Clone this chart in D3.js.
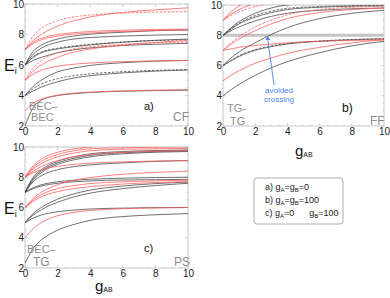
<!DOCTYPE html>
<html>
<head>
<meta charset="utf-8">
<script src="https://cdn.jsdelivr.net/npm/d3@7"></script>
<style>
  body { margin: 0; background: #fff; }
  svg { display: block; }
  text { font-family: "Liberation Sans", Arial, sans-serif; }
</style>
</head>
<body>
<script>
// interaction strength values at which every level was read
const gValues = [0, 0.5, 1, 2, 3, 4, 6, 8, 10]
const xTicks = [0, 2, 4, 6, 8, 10]
const yTicks = [2, 4, 6, 8, 10]

// a) gA = gB = 0  (BEC-BEC -> CF)
const aBlack = [
  [2, 3.2, 3.7, 4.0, 4.12, 4.2, 4.28, 4.32, 4.35],
  [4, 4.3, 4.55, 4.9, 5.15, 5.3, 5.48, 5.6, 5.67],
  [4, 4.6, 5.0, 5.55, 5.8, 5.97, 6.15, 6.25, 6.3],
  [6, 6.5, 6.8, 7.05, 7.2, 7.32, 7.5, 7.62, 7.7],
  [6, 6.3, 6.5, 6.8, 7.0, 7.12, 7.28, 7.36, 7.42],
  [6, 6.7, 7.1, 7.5, 7.7, 7.8, 7.9, 7.96, 8.0],
  [6, 6.9, 7.3, 7.7, 7.9, 8.02, 8.15, 8.25, 8.3]
]
const aBlackDashed = [
  [4, 4.45, 4.75, 5.1, 5.3, 5.42, 5.56, 5.65, 5.7],
  [6, 6.55, 6.85, 7.1, 7.25, 7.35, 7.5, 7.6, 7.65]
]
const aRed = [
  [3, 3.5, 3.75, 4.02, 4.15, 4.22, 4.3, 4.35, 4.38],
  [5, 5.4, 5.65, 5.92, 6.05, 6.13, 6.22, 6.27, 6.3],
  [5, 5.6, 6.0, 6.5, 6.85, 7.05, 7.3, 7.48, 7.6],
  [7, 7.4, 7.65, 7.9, 8.03, 8.1, 8.2, 8.26, 8.3],
  [7, 7.5, 7.75, 8.0, 8.12, 8.2, 8.28, 8.33, 8.35],
  [7, 7.6, 8.0, 8.55, 8.9, 9.15, 9.45, 9.62, 9.75]
]
const aRedDashed = [
  [5, 5.8, 6.3, 6.8, 7.05, 7.2, 7.35, 7.45, 7.5],
  [7, 7.9, 8.4, 8.9, 9.15, 9.28, 9.4, 9.47, 9.5]
]

// b) gA = gB = 100  (TG-TG -> FF)
const bBlack = [
  [4, 4.4, 4.75, 5.35, 5.85, 6.25, 6.85, 7.3, 7.6],
  [6, 6.3, 6.6, 7.0, 7.25, 7.42, 7.6, 7.7, 7.75],
  [6, 6.5, 6.9, 7.5, 8.05, 8.5, 9.1, 9.45, 9.65],
  [8, 8.4, 8.75, 9.2, 9.5, 9.7, 9.85, 9.92, 9.95],
  [8, 8.3, 8.55, 8.95, 9.25, 9.45, 9.65, 9.75, 9.8],
  [8, 8.5, 8.9, 9.45, 9.8, 10.0, 10.1, 10.1, 10.1]
]
const bBlackDashed = [
  [6, 6.35, 6.65, 7.05, 7.3, 7.45, 7.62, 7.72, 7.78],
  [8, 8.45, 8.8, 9.3, 9.6, 9.78, 9.9, 9.96, 9.98]
]
const bRed = [
  [5, 5.35, 5.65, 6.15, 6.5, 6.8, 7.2, 7.5, 7.7],
  [7, 7.1, 7.2, 7.32, 7.42, 7.5, 7.6, 7.66, 7.7],
  [7, 7.4, 7.75, 8.3, 8.75, 9.1, 9.5, 9.7, 9.8],
  [9, 9.4, 9.7, 10.1, 10.3, 10.4, 10.5, 10.5, 10.5],
  [9, 9.55, 9.95, 10.4, 10.6, 10.7, 10.8, 10.8, 10.8]
]
const bRedDashed = [
  [7, 7.5, 7.9, 8.55, 9.0, 9.35, 9.7, 9.85, 9.92],
  [9, 9.3, 9.55, 9.9, 10.1, 10.2, 10.3, 10.3, 10.3]
]
const bLimit = 8

// c) gA = 0, gB = 100  (BEC-TG -> PS)
const cBlack = [
  [2.3, 3.3, 3.85, 4.5, 4.88, 5.15, 5.4, 5.52, 5.6],
  [5, 5.3, 5.5, 5.72, 5.83, 5.9, 5.96, 5.99, 6.0],
  [5, 5.5, 5.85, 6.35, 6.7, 6.95, 7.25, 7.45, 7.6],
  [5, 5.6, 6.0, 6.55, 6.9, 7.15, 7.42, 7.58, 7.68],
  [7, 7.3, 7.5, 7.7, 7.8, 7.87, 7.94, 7.98, 8.0],
  [7, 7.25, 7.42, 7.6, 7.7, 7.76, 7.82, 7.84, 7.86],
  [7, 7.7, 8.1, 8.5, 8.7, 8.82, 8.95, 9.05, 9.1],
  [7, 7.8, 8.3, 8.85, 9.15, 9.35, 9.55, 9.65, 9.7],
  [7, 7.9, 8.4, 8.95, 9.25, 9.45, 9.62, 9.7, 9.75],
  [7, 8.0, 8.5, 9.05, 9.35, 9.55, 9.7, 9.77, 9.8]
]
const cRed = [
  [4, 4.6, 5.0, 5.45, 5.68, 5.8, 5.92, 5.97, 6.0],
  [6, 6.4, 6.7, 7.05, 7.25, 7.38, 7.55, 7.65, 7.7],
  [6, 6.5, 6.85, 7.25, 7.45, 7.58, 7.7, 7.76, 7.8],
  [6, 6.6, 7.0, 7.5, 7.8, 7.98, 8.2, 8.32, 8.4],
  [8, 8.3, 8.5, 8.72, 8.85, 8.93, 9.02, 9.07, 9.1],
  [8, 8.4, 8.7, 9.1, 9.35, 9.5, 9.65, 9.72, 9.75],
  [8, 8.55, 8.9, 9.35, 9.6, 9.75, 9.85, 9.88, 9.9],
  [8, 8.65, 9.05, 9.5, 9.75, 9.88, 9.95, 9.98, 10.0],
  [8, 8.75, 9.2, 9.65, 9.88, 10.0, 10.1, 10.1, 10.1]
]

const legendRows = [
  ['a) g', 'A', '=g', 'B', '=0'],
  ['b) g', 'A', '=g', 'B', '=100'],
  ['c) g', 'A', '=0      g', 'B', '=100']
]

const red = '#ff5454'
const black = '#404040'
const grey = '#8c8c8c'

const svg = d3.select('body').append('svg')
  .attr('width', 390)
  .attr('height', 298)

const defs = svg.append('defs')
defs.append('marker')
  .attr('id', 'arrow')
  .attr('viewBox', '0 0 10 10')
  .attr('refX', 9).attr('refY', 5)
  .attr('markerWidth', 5).attr('markerHeight', 5)
  .attr('orient', 'auto')
  .append('path')
  .attr('d', 'M0,0 L10,5 L0,10 z')
  .attr('fill', '#4a86e8')

function panel(id, x0, x1, yTop, yBot, sets, showEi) {
  const xScale = d3.scaleLinear().domain([0, 10]).range([x0, x1])
  const yScale = d3.scaleLinear().domain([2, 10]).range([yBot, yTop])

  defs.append('clipPath').attr('id', 'clip-' + id)
    .append('rect')
    .attr('x', x0).attr('y', yTop)
    .attr('width', x1 - x0).attr('height', yBot - yTop)

  const g = svg.append('g')

  // frame with inward ticks
  g.append('rect')
    .attr('x', x0).attr('y', yTop)
    .attr('width', x1 - x0).attr('height', yBot - yTop)
    .attr('fill', 'none').attr('stroke', '#c8c8c8').attr('stroke-width', 1)

  const minorX = d3.range(0, 10.01, 0.5)
  const minorY = d3.range(2, 10.01, 0.5)
  const tickG = g.append('g').attr('stroke', '#c8c8c8').attr('stroke-width', 0.8)
  minorX.forEach(v => {
    const len = v % 2 === 0 ? 3 : 1.5
    tickG.append('line').attr('x1', xScale(v)).attr('x2', xScale(v)).attr('y1', yBot).attr('y2', yBot - len)
    tickG.append('line').attr('x1', xScale(v)).attr('x2', xScale(v)).attr('y1', yTop).attr('y2', yTop + len)
  })
  minorY.forEach(v => {
    const len = v % 2 === 0 ? 3 : 1.5
    tickG.append('line').attr('y1', yScale(v)).attr('y2', yScale(v)).attr('x1', x0).attr('x2', x0 + len)
    tickG.append('line').attr('y1', yScale(v)).attr('y2', yScale(v)).attr('x1', x1).attr('x2', x1 - len)
  })

  const xAxis = d3.axisBottom(xScale).tickValues(xTicks).tickSize(0).tickPadding(2)
  const yAxis = d3.axisLeft(yScale).tickValues(yTicks).tickSize(0).tickPadding(1)

  g.append('g').attr('transform', `translate(0,${yBot})`).call(xAxis)
    .call(s => s.select('.domain').remove())
    .selectAll('text').attr('font-size', 10).attr('fill', '#222')
    .attr('font-family', '"DejaVu Sans", sans-serif')
  g.append('g').attr('transform', `translate(${x0},0)`).call(yAxis)
    .call(s => s.select('.domain').remove())
    .selectAll('text').attr('font-size', 10).attr('fill', '#222')
    .attr('font-family', '"DejaVu Sans", sans-serif')

  const line = d3.line()
    .x((d, i) => xScale(gValues[i]))
    .y(d => yScale(d))
    .curve(d3.curveMonotoneX)

  const lines = g.append('g').attr('clip-path', `url(#clip-${id})`)
  sets.forEach(s => {
    lines.append('g').selectAll('path')
      .data(s.data)
      .enter()
      .append('path')
      .attr('d', line)
      .attr('fill', 'none')
      .attr('stroke', s.color)
      .attr('stroke-width', 0.75)
      .attr('stroke-dasharray', s.dashed ? '2.5,1.5' : null)
  })

  if (showEi) {
    const t = g.append('text')
      .attr('x', 4).attr('y', (yTop + yBot) / 2 + 6)
      .attr('font-size', 16).attr('fill', '#111')
      .attr('font-family', '"DejaVu Sans", sans-serif')
    t.append('tspan').text('E')
    t.append('tspan').attr('font-size', 9).attr('dy', 3).text('i')
  }
  return {g, xScale, yScale}
}

function gAB(x, y) {
  const t = svg.append('text').attr('x', x).attr('y', y)
    .attr('font-size', 15).attr('fill', '#111')
    .attr('font-family', '"DejaVu Sans", sans-serif')
  t.append('tspan').text('g')
  t.append('tspan').attr('font-size', 7).attr('dy', 1).text('AB')
}

function label(txt, x, y, size, color, family) {
  svg.append('text').attr('x', x).attr('y', y)
    .attr('font-size', size).attr('fill', color)
    .attr('font-family', family)
    .text(txt)
}

const serif = '"Liberation Serif", "Times New Roman", serif'
const sans = '"DejaVu Sans", sans-serif'

// panel a
panel('a', 25, 188, 4, 126, [
  {data: aBlack, color: black},
  {data: aBlackDashed, color: black, dashed: true},
  {data: aRed, color: red},
  {data: aRedDashed, color: red, dashed: true}
], true)
label('BEC–', 29, 110, 11, grey, serif)
label('BEC', 31, 121, 11, grey, serif)
label('a)', 144, 110, 11, '#111', sans)
label('CF', 173, 121, 12, grey, serif)

// panel b
const pb = panel('b', 223, 384, 5, 126, [
  {data: bBlack, color: black},
  {data: bBlackDashed, color: black, dashed: true},
  {data: bRed, color: red},
  {data: bRedDashed, color: red, dashed: true}
], false)
pb.g.insert('line', ':first-child')
  .attr('x1', 223).attr('x2', 384)
  .attr('y1', pb.yScale(bLimit)).attr('y2', pb.yScale(bLimit))
  .attr('stroke', '#c4c4c4').attr('stroke-width', 3)
label('TG-', 227, 112, 11, grey, sans)
label('TG', 230, 125, 11, grey, sans)
label('b)', 342, 112, 12, '#111', sans)
label('FF', 370, 125, 12, grey, sans)
gAB(295, 156)

// avoided crossing annotation
svg.append('line')
  .attr('x1', 274).attr('y1', 85)
  .attr('x2', pb.xScale(2.75)).attr('y2', pb.yScale(bLimit) + 1)
  .attr('stroke', '#4a86e8').attr('stroke-width', 0.9)
  .attr('marker-end', 'url(#arrow)')
svg.append('text').attr('x', 279).attr('y', 93)
  .attr('text-anchor', 'middle').attr('font-size', 8).attr('fill', '#4a86e8')
  .attr('font-family', sans).text('avoided')
svg.append('text').attr('x', 279).attr('y', 102)
  .attr('text-anchor', 'middle').attr('font-size', 8).attr('fill', '#4a86e8')
  .attr('font-family', sans).text('crossing')

// panel c
panel('c', 25, 188, 147, 268, [
  {data: cBlack, color: black},
  {data: cRed, color: red}
], true)
label('BEC–', 27, 253, 11, grey, serif)
label('TG', 33, 266, 12, grey, sans)
label('c)', 144, 252, 11, '#111', sans)
label('PS', 174, 266, 12, grey, sans)
gAB(95, 291)

// legend
svg.append('rect')
  .attr('x', 254).attr('y', 178)
  .attr('width', 89).attr('height', 46)
  .attr('rx', 3)
  .attr('fill', '#fff').attr('stroke', '#9a9a9a').attr('stroke-width', 0.8)

legendRows.forEach((row, i) => {
  const t = svg.append('text')
    .attr('x', 265).attr('y', 190 + i * 13)
    .attr('font-size', 9).attr('fill', '#222')
    .attr('font-family', '"Liberation Sans", sans-serif')
    .style('white-space', 'pre')
  row.forEach((part, j) => {
    const sub = j % 2 === 1
    t.append('tspan')
      .attr('font-size', sub ? 6 : 9)
      .attr('dy', sub ? 1.5 : (j === 0 ? 0 : -1.5))
      .text(part)
  })
})
</script>
</body>
</html>
